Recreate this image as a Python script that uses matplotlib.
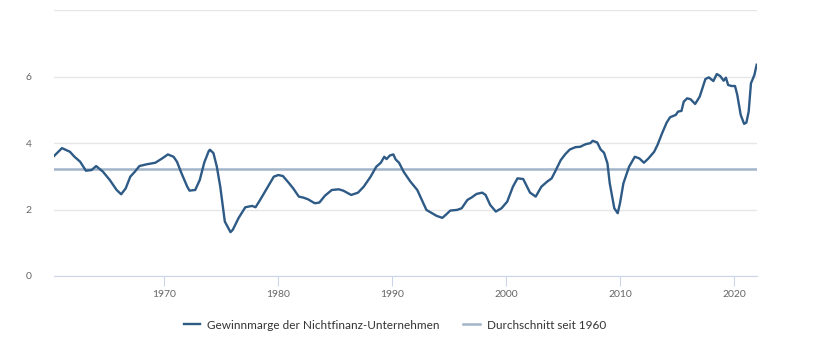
import matplotlib.pyplot as plt

# Gewinnmarge der Nichtfinanz-Unternehmen (in %)
jahr = [1960.3, 1961.0, 1961.7, 1962.1, 1962.6, 1963.1, 1963.6, 1964.0, 1964.6,
        1965.2, 1965.8, 1966.2, 1966.6, 1967.0, 1967.4, 1967.8, 1968.4, 1969.2,
        1969.8, 1970.3, 1970.8, 1971.1, 1971.5, 1972.0, 1972.2, 1972.7, 1973.1,
        1973.5, 1973.9, 1974.0, 1974.3, 1974.6, 1974.9, 1975.3, 1975.8, 1976.0,
        1976.5, 1977.1, 1977.7, 1978.0, 1978.4, 1979.0, 1979.6, 1980.0, 1980.4,
        1980.9, 1981.3, 1981.8, 1982.2, 1982.6, 1983.2, 1983.6, 1984.1, 1984.7,
        1985.3, 1985.7, 1986.4, 1987.0, 1987.5, 1988.1, 1988.6, 1989.0, 1989.3,
        1989.5, 1989.8, 1990.1, 1990.3, 1990.6, 1991.0, 1991.6, 1992.2, 1992.6,
        1993.0, 1993.5, 1993.9, 1994.4, 1994.7, 1995.1, 1995.7, 1996.1, 1996.6,
        1997.0, 1997.4, 1997.9, 1998.2, 1998.6, 1999.1, 1999.6, 2000.1, 2000.6,
        2001.0, 2001.5, 2002.1, 2002.6, 2003.1, 2003.6, 2004.0, 2004.3, 2004.8,
        2005.2, 2005.6, 2006.1, 2006.5, 2007.0, 2007.4, 2007.6, 2008.0, 2008.3,
        2008.6, 2008.9, 2009.1, 2009.5, 2009.8, 2010.0, 2010.3, 2010.8, 2011.3,
        2011.7, 2012.1, 2012.5, 2013.0, 2013.3, 2013.7, 2014.1, 2014.4, 2014.9,
        2015.1, 2015.4, 2015.6, 2015.9, 2016.2, 2016.6, 2017.0, 2017.5, 2017.8,
        2018.2, 2018.5, 2018.8, 2019.1, 2019.3, 2019.5, 2019.8, 2020.1, 2020.3,
        2020.6, 2020.9, 2021.1, 2021.3, 2021.5, 2021.8, 2022.0]
marge = [3.61, 3.85, 3.74, 3.59, 3.44, 3.17, 3.19, 3.31, 3.14,
         2.89, 2.59, 2.46, 2.64, 2.99, 3.14, 3.31, 3.36, 3.41,
         3.54, 3.66, 3.59, 3.44, 3.09, 2.69, 2.57, 2.59, 2.89,
         3.42, 3.77, 3.80, 3.70, 3.29, 2.69, 1.64, 1.32, 1.39,
         1.74, 2.07, 2.11, 2.07, 2.29, 2.64, 2.99, 3.04, 3.01,
         2.81, 2.64, 2.39, 2.36, 2.31, 2.19, 2.21, 2.42, 2.59,
         2.61, 2.57, 2.44, 2.51, 2.69, 2.99, 3.29, 3.41, 3.59,
         3.52, 3.63, 3.66, 3.51, 3.41, 3.14, 2.84, 2.59, 2.29,
         1.99, 1.89, 1.81, 1.75, 1.84, 1.97, 1.99, 2.04, 2.29,
         2.37, 2.47, 2.51, 2.44, 2.14, 1.94, 2.04, 2.24, 2.69,
         2.94, 2.92, 2.51, 2.39, 2.69, 2.84, 2.94, 3.14, 3.49,
         3.67, 3.81, 3.88, 3.89, 3.97, 4.00, 4.07, 4.02, 3.81,
         3.71, 3.39, 2.79, 2.04, 1.89, 2.19, 2.79, 3.29, 3.59,
         3.54, 3.41, 3.54, 3.74, 3.95, 4.30, 4.62, 4.78, 4.85,
         4.95, 4.97, 5.25, 5.35, 5.32, 5.18, 5.40, 5.93, 5.98,
         5.87, 6.08, 6.02, 5.88, 5.97, 5.75, 5.72, 5.72, 5.45,
         4.85, 4.58, 4.62, 4.95, 5.80, 6.05, 6.36]
durchschnitt = 3.22

yticks = [0, 2, 4, 6, 8]
ytick_labels = ["0", "2", "4", "6", ""]
xticks = [1970, 1980, 1990, 2000, 2010, 2020]

plt.rcParams['font.family'] = ['Lato', 'DejaVu Sans']

fig = plt.figure(figsize=(8.37, 3.51), dpi=100)
ax = fig.add_axes([0.0645, 0.2137, 0.8395, 0.757])

ax.plot(jahr, marge, color='#2e5a86', lw=1.7, label="Gewinnmarge der Nichtfinanz-Unternehmen",
        solid_joinstyle='round', zorder=3)
ax.axhline(durchschnitt, color='#a2b4c9', lw=1.8, label="Durchschnitt seit 1960", zorder=2)

ax.set_xlim(1960.3, 2022.0)
ax.set_ylim(0, 8)
ax.set_yticks(yticks)
ax.set_yticklabels(ytick_labels)
ax.set_xticks(xticks)
ax.grid(axis='y', color='#e6e6e6', lw=1)
ax.set_axisbelow(True)

for s in ['top', 'right', 'left']:
    ax.spines[s].set_visible(False)
ax.spines['bottom'].set_color('#ccd6eb')
ax.tick_params(axis='y', length=0, pad=16, labelsize=7.5, labelcolor='#666666')
ax.tick_params(axis='x', length=7, color='#ccd6eb', pad=3, labelsize=7.5, labelcolor='#666666')

fig.legend(loc='center', bbox_to_anchor=(0.472, 0.074), ncol=2, frameon=False,
           fontsize=8.5, handlelength=1.4, columnspacing=2.0, handletextpad=0.6,
           labelcolor='#333333')

plt.savefig('out.png', dpi=100)
